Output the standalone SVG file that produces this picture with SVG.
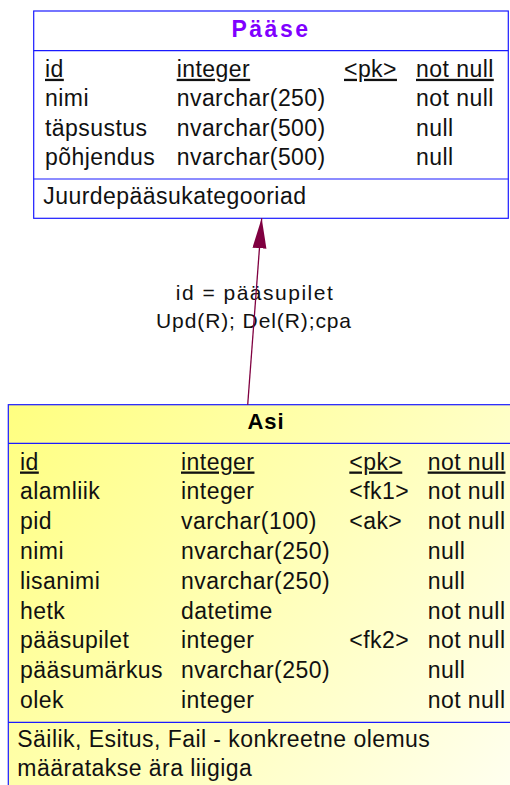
<svg xmlns="http://www.w3.org/2000/svg" width="510" height="785" viewBox="0 0 510 785">
<style>
.box{stroke:#1a1aff;stroke-width:1.2}
.sep{stroke:#1a1aff;stroke-width:1.2;fill:none}
.t{font-family:"Liberation Sans",Arial,sans-serif;font-size:23px;letter-spacing:0.45px;fill:#111}
.u{text-decoration:underline}
.title{font-family:"Liberation Sans",Arial,sans-serif;font-weight:bold;text-anchor:middle}
.lbl{font-family:"Liberation Sans",Arial,sans-serif;font-size:21px;fill:#111;text-anchor:middle}
.conn{stroke:#800040;stroke-width:1.3;fill:none}
</style>
<defs>
<linearGradient id="yel" gradientUnits="userSpaceOnUse" x1="8" y1="405" x2="560" y2="830">
<stop offset="0" stop-color="#ffff80"/>
<stop offset="1" stop-color="#fffffa"/>
</linearGradient>
<marker id="arr" markerUnits="userSpaceOnUse" markerWidth="32" markerHeight="16" refX="30" refY="7" orient="auto">
<path d="M0,0 L30,7 L0,14 Z" fill="#800040"/>
</marker>
</defs>

<g id="node-paase">
<rect class="box" x="33.7" y="11" width="474.6" height="207.3" fill="#ffffff"/>
<line class="sep" x1="33.7" y1="50.7" x2="508.3" y2="50.7"/>
<line class="sep" x1="33.7" y1="179" x2="508.3" y2="179"/>
<text class="title" x="271" y="36.7" fill="#8000ff" font-size="23" letter-spacing="2.5">Pääse</text>
<text class="t u" x="45" y="76.8">id</text>
<text class="t u" x="176.7" y="76.8">integer</text>
<text class="t u" x="344" y="76.8">&lt;pk&gt;</text>
<text class="t u" x="416" y="76.8">not null</text>
<text class="t" x="45" y="106.2">nimi</text>
<text class="t" x="176.7" y="106.2">nvarchar(250)</text>
<text class="t" x="416" y="106.2">not null</text>
<text class="t" x="45" y="135.6">täpsustus</text>
<text class="t" x="176.7" y="135.6">nvarchar(500)</text>
<text class="t" x="416" y="135.6">null</text>
<text class="t" x="45" y="165">põhjendus</text>
<text class="t" x="176.7" y="165">nvarchar(500)</text>
<text class="t" x="416" y="165">null</text>
<text class="t" x="43.3" y="204">Juurdepääsukategooriad</text>
</g>

<g id="node-asi">
<rect class="box" x="8.3" y="404.7" width="520" height="400" fill="url(#yel)"/>
<line class="sep" x1="8.3" y1="443.3" x2="510" y2="443.3"/>
<line class="sep" x1="8.3" y1="722.3" x2="510" y2="722.3"/>
<text class="title" x="266" y="429" fill="#000" font-size="22" letter-spacing="1">Asi</text>
<text class="t u" x="20" y="469.5">id</text>
<text class="t u" x="181" y="469.5">integer</text>
<text class="t u" x="349.3" y="469.5">&lt;pk&gt;</text>
<text class="t u" x="427.7" y="469.5">not null</text>
<text class="t" x="20" y="499.3">alamliik</text>
<text class="t" x="181" y="499.3">integer</text>
<text class="t" x="349.3" y="499.3">&lt;fk1&gt;</text>
<text class="t" x="427.7" y="499.3">not null</text>
<text class="t" x="20" y="529.1">pid</text>
<text class="t" x="181" y="529.1">varchar(100)</text>
<text class="t" x="349.3" y="529.1">&lt;ak&gt;</text>
<text class="t" x="427.7" y="529.1">not null</text>
<text class="t" x="20" y="558.9">nimi</text>
<text class="t" x="181" y="558.9">nvarchar(250)</text>
<text class="t" x="427.7" y="558.9">null</text>
<text class="t" x="20" y="588.7">lisanimi</text>
<text class="t" x="181" y="588.7">nvarchar(250)</text>
<text class="t" x="427.7" y="588.7">null</text>
<text class="t" x="20" y="618.5">hetk</text>
<text class="t" x="181" y="618.5">datetime</text>
<text class="t" x="427.7" y="618.5">not null</text>
<text class="t" x="20" y="648.3">pääsupilet</text>
<text class="t" x="181" y="648.3">integer</text>
<text class="t" x="349.3" y="648.3">&lt;fk2&gt;</text>
<text class="t" x="427.7" y="648.3">not null</text>
<text class="t" x="20" y="678.1">pääsumärkus</text>
<text class="t" x="181" y="678.1">nvarchar(250)</text>
<text class="t" x="427.7" y="678.1">null</text>
<text class="t" x="20" y="707.9">olek</text>
<text class="t" x="181" y="707.9">integer</text>
<text class="t" x="427.7" y="707.9">not null</text>
<text class="t" x="17.3" y="747.3" letter-spacing="0.25">Säilik, Esitus, Fail - konkreetne olemus</text>
<text class="t" x="17.3" y="776" letter-spacing="0.25">määratakse ära liigiga</text>
</g>

<g id="connectors">
<text class="lbl" x="255" y="300" letter-spacing="1.5">id = pääsupilet</text>
<text class="lbl" x="254" y="328" letter-spacing="0.9">Upd(R); Del(R);cpa</text>
<line class="conn" x1="247.7" y1="404.7" x2="261.7" y2="218.3" marker-end="url(#arr)"/>
</g>
</svg>
